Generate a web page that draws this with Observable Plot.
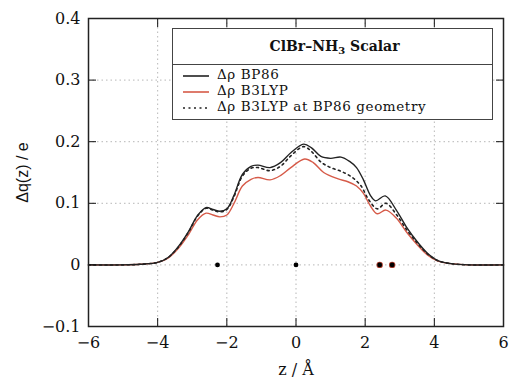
<!DOCTYPE html>
<html>
<head>
<meta charset="utf-8">
<script src="https://cdn.jsdelivr.net/npm/d3@7"></script>
<script src="https://cdn.jsdelivr.net/npm/@observablehq/plot@0.6"></script>
<style>
  html, body { margin: 0; padding: 0; background: #fff; }
  #wrap { position: relative; width: 518px; height: 383px; }
  #wrap svg [aria-label="y-axis label"] text { font-family: "Liberation Sans", Arial, sans-serif; }
  #legend {
    position: absolute; left: 172px; top: 28px; width: 319px; height: 90px;
    border: 1px solid #444; background: #fff; font-family: "DejaVu Serif", serif; color: #111;
  }
  #legend .title {
    height: 35px; border-bottom: 1px solid #444; text-align: center;
    font-weight: bold; font-size: 14px; line-height: 35px; padding-left: 4px;
  }
  #legend .title sub { font-size: 10px; vertical-align: -3px; line-height: 0; }
  #legend .row { position: absolute; left: 10px; height: 16px; font-size: 13.5px; letter-spacing: 0.6px; line-height: 16px; white-space: nowrap; }
  #legend .row svg { vertical-align: middle; margin-right: 8px; }
</style>
</head>
<body>
<div id="wrap"></div>
<script>
// ---- data ----
const zBP86 = [-6, -5, -4.5, -4.0, -3.7, -3.4, -3.1, -2.85, -2.6, -2.4, -2.2, -2.0, -1.8, -1.55, -1.3, -1.1, -0.75, -0.45, -0.15, 0.22, 0.45, 0.72, 1.0, 1.3, 1.55, 1.75, 1.95, 2.15, 2.3, 2.58, 2.9, 3.2, 3.5, 3.8, 4.1, 4.5, 5, 6];
const qBP86 = [0, 0, 0.001, 0.004, 0.012, 0.030, 0.055, 0.080, 0.093, 0.090, 0.087, 0.091, 0.112, 0.147, 0.160, 0.162, 0.158, 0.166, 0.182, 0.196, 0.190, 0.176, 0.173, 0.175, 0.168, 0.158, 0.138, 0.113, 0.104, 0.112, 0.089, 0.061, 0.038, 0.019, 0.007, 0.002, 0, 0];

const zB3LYP = [-6, -5, -4.5, -4.0, -3.7, -3.4, -3.1, -2.85, -2.6, -2.4, -2.2, -2.0, -1.8, -1.55, -1.3, -1.1, -0.75, -0.45, -0.15, 0.25, 0.5, 0.8, 1.2, 1.5, 1.75, 1.95, 2.15, 2.35, 2.6, 2.9, 3.2, 3.5, 3.8, 4.1, 4.5, 5, 6];
const qB3LYP = [0, 0, 0.001, 0.004, 0.011, 0.027, 0.050, 0.073, 0.084, 0.081, 0.078, 0.081, 0.099, 0.128, 0.139, 0.142, 0.138, 0.145, 0.158, 0.172, 0.166, 0.150, 0.140, 0.135, 0.128, 0.116, 0.096, 0.083, 0.089, 0.076, 0.053, 0.033, 0.016, 0.006, 0.002, 0, 0];

const zB3LYPatBP86 = [-6, -5, -4.5, -4.0, -3.7, -3.4, -3.1, -2.85, -2.6, -2.4, -2.2, -2.0, -1.8, -1.55, -1.3, -1.1, -0.75, -0.45, -0.15, 0.22, 0.45, 0.72, 1.0, 1.3, 1.6, 1.87, 2.1, 2.35, 2.6, 2.9, 3.2, 3.5, 3.8, 4.1, 4.5, 5, 6];
const qB3LYPatBP86 = [0, 0, 0.001, 0.004, 0.012, 0.029, 0.054, 0.079, 0.092, 0.089, 0.086, 0.090, 0.110, 0.144, 0.157, 0.158, 0.153, 0.160, 0.177, 0.192, 0.184, 0.167, 0.158, 0.152, 0.143, 0.129, 0.106, 0.091, 0.100, 0.082, 0.057, 0.036, 0.018, 0.007, 0.002, 0, 0];

const atomsZ = [-2.27, 0, 2.42, 2.78];
const atomsRedZ = [2.42, 2.78];

const xTicks = [-6, -4, -2, 0, 2, 4, 6];
const xTickLabels = ["\u22126", "\u22124", "\u22122", "0", "2", "4", "6"];
const yTicks = [-0.1, 0, 0.1, 0.2, 0.3, 0.4];
const yTickLabels = ["\u22120.1", "0", "0.1", "0.2", "0.3", "0.4"];
const xGrid = [-4, -2, 0, 2, 4];
const yGrid = [0, 0.1, 0.2, 0.3];

const seriesNames = ["\u0394\u03c1 BP86", "\u0394\u03c1 B3LYP", "\u0394\u03c1 B3LYP at BP86 geometry"];
const titleText = "ClBr\u2013NH<sub>3</sub> Scalar";

// ---- build ----
const toRows = (zs, qs) => zs.map((z, i) => ({z, q: qs[i]}));
const bp86 = toRows(zBP86, qBP86);
const b3lyp = toRows(zB3LYP, qB3LYP);
const b3lypGeo = toRows(zB3LYPatBP86, qB3LYPatBP86);
const red = "#d65a48";

const xLab = new Map(xTicks.map((t, i) => [t, xTickLabels[i]]));
const yLab = new Map(yTicks.map((t, i) => [t, yTickLabels[i]]));

const chart = Plot.plot({
  width: 518,
  height: 383,
  marginLeft: 88,
  marginRight: 15,
  marginTop: 18,
  marginBottom: 57,
  style: {fontFamily: "'DejaVu Serif', serif", fontSize: "16px", color: "#111", background: "#fff"},
  x: {domain: [-6, 6]},
  y: {domain: [-0.1, 0.4]},
  marks: [
    Plot.gridX(xGrid, {stroke: "#999", strokeOpacity: 0.7, strokeDasharray: "1.5,3"}),
    Plot.gridY(yGrid, {stroke: "#999", strokeOpacity: 0.7, strokeDasharray: "1.5,3"}),
    Plot.line(b3lyp, {x: "z", y: "q", stroke: red, strokeWidth: 1.4, curve: "catmull-rom"}),
    Plot.line(bp86, {x: "z", y: "q", stroke: "#222", strokeWidth: 1.4, curve: "catmull-rom"}),
    Plot.line(b3lypGeo, {x: "z", y: "q", stroke: "#222", strokeWidth: 1.6, strokeDasharray: "2,3.5", curve: "catmull-rom"}),
    Plot.dot(atomsRedZ, {x: d => d, y: () => 0, r: 3.2, fill: "#b04030", stroke: "none"}),
    Plot.dot(atomsZ, {x: d => d, y: () => 0, r: 2.4, fill: "#000", stroke: "none"}),
    // inward ticks on all four sides
    Plot.axisX(xTicks, {anchor: "bottom", tickSize: -8, tickFormat: () => "", label: null}),
    Plot.axisX(xTicks.slice(1, -1), {anchor: "top", tickSize: -8, tickFormat: () => "", label: null}),
    Plot.axisY(yTicks, {anchor: "left", tickSize: -8, tickFormat: () => "", label: null}),
    Plot.axisY(yTicks.slice(2, -1), {anchor: "right", tickSize: -8, tickFormat: () => "", label: null}),
    // labels
    Plot.axisX(xTicks, {anchor: "bottom", tickSize: 0, tickPadding: 10, tickFormat: d => xLab.get(d),
      label: "z / \u00c5", labelAnchor: "center", labelOffset: 48, labelArrow: "none"}),
    Plot.axisY(yTicks, {anchor: "left", tickSize: 0, tickPadding: 8, tickFormat: d => yLab.get(d),
      label: "\u0394q(z) / e", labelAnchor: "center", labelOffset: 72, labelArrow: "none"}),
    Plot.frame({stroke: "#222", strokeWidth: 1.5})
  ]
});

const wrap = document.getElementById("wrap");
wrap.appendChild(chart);

// legend box (inside the plot area)
const legend = document.createElement("div");
legend.id = "legend";
const swatch = (color, dash) =>
  `<svg width="26" height="6"><line x1="0" y1="3" x2="26" y2="3" stroke="${color}" stroke-width="1.6"${dash ? ` stroke-dasharray="${dash}"` : ""}/></svg>`;
const styles = [["#222", null], [red, null], ["#222", "2,3.5"]];
legend.innerHTML = `<div class="title">${titleText}</div>` +
  seriesNames.map((name, i) =>
    `<div class="row" style="top:${37 + i * 16}px">${swatch(styles[i][0], styles[i][1])}${name}</div>`).join("");
wrap.appendChild(legend);
</script>
</body>
</html>
